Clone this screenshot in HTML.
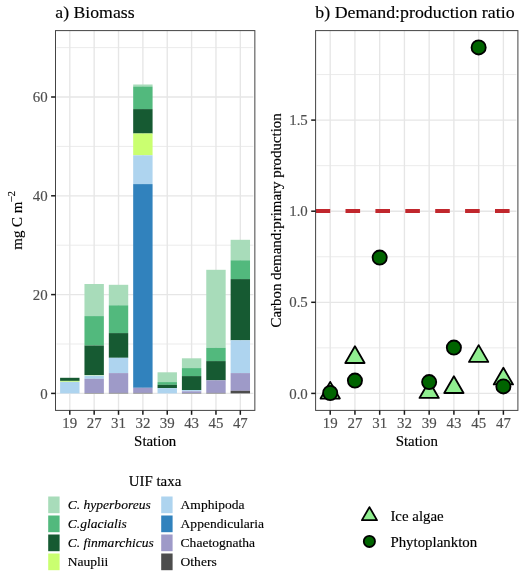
<!DOCTYPE html>
<html lang="en"><head><meta charset="utf-8"><title>Biomass and demand:production ratio</title>
<style>html,body{margin:0;padding:0;background:#fff}svg{display:block}</style></head>
<body>
<svg width="520" height="579" viewBox="0 0 520 579" font-family="'Liberation Serif', serif">
<rect width="520" height="579" fill="#fff"/>
<rect x="55.5" y="30.6" width="199.35" height="379.80" fill="#fff"/>
<line x1="56.50" x2="253.35" y1="344.00" y2="344.00" stroke="#e6e6e6" stroke-width="0.8"/>
<line x1="56.50" x2="253.35" y1="245.20" y2="245.20" stroke="#e6e6e6" stroke-width="0.8"/>
<line x1="56.50" x2="253.35" y1="146.40" y2="146.40" stroke="#e6e6e6" stroke-width="0.8"/>
<line x1="56.50" x2="253.35" y1="47.60" y2="47.60" stroke="#e6e6e6" stroke-width="0.8"/>
<line x1="56.50" x2="253.35" y1="393.40" y2="393.40" stroke="#e6e6e6" stroke-width="1.35"/>
<line x1="56.50" x2="253.35" y1="294.60" y2="294.60" stroke="#e6e6e6" stroke-width="1.35"/>
<line x1="56.50" x2="253.35" y1="195.80" y2="195.80" stroke="#e6e6e6" stroke-width="1.35"/>
<line x1="56.50" x2="253.35" y1="97.00" y2="97.00" stroke="#e6e6e6" stroke-width="1.35"/>
<line x1="69.80" x2="69.80" y1="30.6" y2="410.4" stroke="#e6e6e6" stroke-width="1.35"/>
<line x1="94.16" x2="94.16" y1="30.6" y2="410.4" stroke="#e6e6e6" stroke-width="1.35"/>
<line x1="118.52" x2="118.52" y1="30.6" y2="410.4" stroke="#e6e6e6" stroke-width="1.35"/>
<line x1="142.88" x2="142.88" y1="30.6" y2="410.4" stroke="#e6e6e6" stroke-width="1.35"/>
<line x1="167.24" x2="167.24" y1="30.6" y2="410.4" stroke="#e6e6e6" stroke-width="1.35"/>
<line x1="191.60" x2="191.60" y1="30.6" y2="410.4" stroke="#e6e6e6" stroke-width="1.35"/>
<line x1="215.96" x2="215.96" y1="30.6" y2="410.4" stroke="#e6e6e6" stroke-width="1.35"/>
<line x1="240.32" x2="240.32" y1="30.6" y2="410.4" stroke="#e6e6e6" stroke-width="1.35"/>
<rect x="60.10" y="377.80" width="19.40" height="3.10" fill="#165a32"/>
<rect x="60.10" y="380.90" width="19.40" height="0.90" fill="#caff70"/>
<rect x="60.10" y="381.80" width="19.40" height="11.60" fill="#aed4ef"/>
<rect x="84.46" y="284.00" width="19.40" height="32.10" fill="#a8dcba"/>
<rect x="84.46" y="316.10" width="19.40" height="29.40" fill="#52b97d"/>
<rect x="84.46" y="345.50" width="19.40" height="29.50" fill="#165a32"/>
<rect x="84.46" y="375.00" width="19.40" height="0.50" fill="#caff70"/>
<rect x="84.46" y="375.50" width="19.40" height="3.30" fill="#aed4ef"/>
<rect x="84.46" y="378.80" width="19.40" height="14.20" fill="#9e9ac8"/>
<rect x="84.46" y="393.00" width="19.40" height="0.40" fill="#4d4d4d"/>
<rect x="108.82" y="284.80" width="19.40" height="20.50" fill="#a8dcba"/>
<rect x="108.82" y="305.30" width="19.40" height="27.80" fill="#52b97d"/>
<rect x="108.82" y="333.10" width="19.40" height="24.70" fill="#165a32"/>
<rect x="108.82" y="357.80" width="19.40" height="15.30" fill="#aed4ef"/>
<rect x="108.82" y="373.10" width="19.40" height="19.80" fill="#9e9ac8"/>
<rect x="108.82" y="392.90" width="19.40" height="0.50" fill="#4d4d4d"/>
<rect x="133.18" y="84.50" width="19.40" height="2.00" fill="#a8dcba"/>
<rect x="133.18" y="86.50" width="19.40" height="22.60" fill="#52b97d"/>
<rect x="133.18" y="109.10" width="19.40" height="24.40" fill="#165a32"/>
<rect x="133.18" y="133.50" width="19.40" height="21.80" fill="#caff70"/>
<rect x="133.18" y="155.30" width="19.40" height="28.80" fill="#aed4ef"/>
<rect x="133.18" y="184.10" width="19.40" height="203.70" fill="#3182bd"/>
<rect x="133.18" y="387.80" width="19.40" height="5.10" fill="#9e9ac8"/>
<rect x="133.18" y="392.90" width="19.40" height="0.50" fill="#4d4d4d"/>
<rect x="157.54" y="372.30" width="19.40" height="9.80" fill="#a8dcba"/>
<rect x="157.54" y="382.10" width="19.40" height="2.70" fill="#52b97d"/>
<rect x="157.54" y="384.80" width="19.40" height="3.30" fill="#165a32"/>
<rect x="157.54" y="388.10" width="19.40" height="5.30" fill="#aed4ef"/>
<rect x="181.90" y="358.30" width="19.40" height="9.80" fill="#a8dcba"/>
<rect x="181.90" y="368.10" width="19.40" height="8.00" fill="#52b97d"/>
<rect x="181.90" y="376.10" width="19.40" height="14.00" fill="#165a32"/>
<rect x="181.90" y="390.10" width="19.40" height="1.20" fill="#aed4ef"/>
<rect x="181.90" y="391.30" width="19.40" height="1.70" fill="#9e9ac8"/>
<rect x="181.90" y="393.00" width="19.40" height="0.40" fill="#4d4d4d"/>
<rect x="206.26" y="269.80" width="19.40" height="78.00" fill="#a8dcba"/>
<rect x="206.26" y="347.80" width="19.40" height="13.30" fill="#52b97d"/>
<rect x="206.26" y="361.10" width="19.40" height="19.20" fill="#165a32"/>
<rect x="206.26" y="380.30" width="19.40" height="12.60" fill="#9e9ac8"/>
<rect x="206.26" y="392.90" width="19.40" height="0.50" fill="#4d4d4d"/>
<rect x="230.62" y="239.80" width="19.40" height="20.50" fill="#a8dcba"/>
<rect x="230.62" y="260.30" width="19.40" height="18.80" fill="#52b97d"/>
<rect x="230.62" y="279.10" width="19.40" height="61.20" fill="#165a32"/>
<rect x="230.62" y="340.30" width="19.40" height="32.80" fill="#aed4ef"/>
<rect x="230.62" y="373.10" width="19.40" height="17.70" fill="#9e9ac8"/>
<rect x="230.62" y="390.80" width="19.40" height="2.60" fill="#4d4d4d"/>
<rect x="55.5" y="30.6" width="199.35" height="379.80" fill="none" stroke="#444" stroke-width="1"/>
<line x1="51.10" x2="55.5" y1="393.40" y2="393.40" stroke="#1a1a1a" stroke-width="1.5"/>
<text transform="translate(47.70,398.50) scale(1.015,1)" font-size="14.67" fill="#4d4d4d" stroke="#4d4d4d" stroke-width="0.15" text-anchor="end">0</text>
<line x1="51.10" x2="55.5" y1="294.60" y2="294.60" stroke="#1a1a1a" stroke-width="1.5"/>
<text transform="translate(47.70,299.70) scale(1.015,1)" font-size="14.67" fill="#4d4d4d" stroke="#4d4d4d" stroke-width="0.15" text-anchor="end">20</text>
<line x1="51.10" x2="55.5" y1="195.80" y2="195.80" stroke="#1a1a1a" stroke-width="1.5"/>
<text transform="translate(47.70,200.90) scale(1.015,1)" font-size="14.67" fill="#4d4d4d" stroke="#4d4d4d" stroke-width="0.15" text-anchor="end">40</text>
<line x1="51.10" x2="55.5" y1="97.00" y2="97.00" stroke="#1a1a1a" stroke-width="1.5"/>
<text transform="translate(47.70,102.10) scale(1.015,1)" font-size="14.67" fill="#4d4d4d" stroke="#4d4d4d" stroke-width="0.15" text-anchor="end">60</text>
<line x1="69.80" x2="69.80" y1="410.4" y2="414.80" stroke="#1a1a1a" stroke-width="1.5"/>
<text transform="translate(69.80,427.90) scale(1.015,1)" font-size="14.67" fill="#4d4d4d" stroke="#4d4d4d" stroke-width="0.15" text-anchor="middle">19</text>
<line x1="94.16" x2="94.16" y1="410.4" y2="414.80" stroke="#1a1a1a" stroke-width="1.5"/>
<text transform="translate(94.16,427.90) scale(1.015,1)" font-size="14.67" fill="#4d4d4d" stroke="#4d4d4d" stroke-width="0.15" text-anchor="middle">27</text>
<line x1="118.52" x2="118.52" y1="410.4" y2="414.80" stroke="#1a1a1a" stroke-width="1.5"/>
<text transform="translate(118.52,427.90) scale(1.015,1)" font-size="14.67" fill="#4d4d4d" stroke="#4d4d4d" stroke-width="0.15" text-anchor="middle">31</text>
<line x1="142.88" x2="142.88" y1="410.4" y2="414.80" stroke="#1a1a1a" stroke-width="1.5"/>
<text transform="translate(142.88,427.90) scale(1.015,1)" font-size="14.67" fill="#4d4d4d" stroke="#4d4d4d" stroke-width="0.15" text-anchor="middle">32</text>
<line x1="167.24" x2="167.24" y1="410.4" y2="414.80" stroke="#1a1a1a" stroke-width="1.5"/>
<text transform="translate(167.24,427.90) scale(1.015,1)" font-size="14.67" fill="#4d4d4d" stroke="#4d4d4d" stroke-width="0.15" text-anchor="middle">39</text>
<line x1="191.60" x2="191.60" y1="410.4" y2="414.80" stroke="#1a1a1a" stroke-width="1.5"/>
<text transform="translate(191.60,427.90) scale(1.015,1)" font-size="14.67" fill="#4d4d4d" stroke="#4d4d4d" stroke-width="0.15" text-anchor="middle">43</text>
<line x1="215.96" x2="215.96" y1="410.4" y2="414.80" stroke="#1a1a1a" stroke-width="1.5"/>
<text transform="translate(215.96,427.90) scale(1.015,1)" font-size="14.67" fill="#4d4d4d" stroke="#4d4d4d" stroke-width="0.15" text-anchor="middle">45</text>
<line x1="240.32" x2="240.32" y1="410.4" y2="414.80" stroke="#1a1a1a" stroke-width="1.5"/>
<text transform="translate(240.32,427.90) scale(1.015,1)" font-size="14.67" fill="#4d4d4d" stroke="#4d4d4d" stroke-width="0.15" text-anchor="middle">47</text>
<text transform="translate(155.18,446.00) scale(1.015,1)" font-size="14.67" fill="#000" stroke="#000" stroke-width="0.15" text-anchor="middle">Station</text>
<text transform="translate(55.30,18.30) scale(1.008,1)" font-size="17.6" fill="#000" stroke="#000" stroke-width="0.15">a) Biomass</text>
<text transform="translate(21.5,220.3) rotate(-90)" font-size="14.9" fill="#000" stroke="#000" stroke-width="0.15" text-anchor="middle">mg C m<tspan dx="-0.9" dy="-6.3" font-size="11">−2</tspan></text>
<rect x="315.6" y="30.6" width="202.30" height="379.80" fill="#fff"/>
<line x1="316.60" x2="516.40" y1="347.85" y2="347.85" stroke="#e6e6e6" stroke-width="0.8"/>
<line x1="316.60" x2="516.40" y1="256.75" y2="256.75" stroke="#e6e6e6" stroke-width="0.8"/>
<line x1="316.60" x2="516.40" y1="165.65" y2="165.65" stroke="#e6e6e6" stroke-width="0.8"/>
<line x1="316.60" x2="516.40" y1="74.55" y2="74.55" stroke="#e6e6e6" stroke-width="0.8"/>
<line x1="316.60" x2="516.40" y1="393.40" y2="393.40" stroke="#e6e6e6" stroke-width="1.35"/>
<line x1="316.60" x2="516.40" y1="302.30" y2="302.30" stroke="#e6e6e6" stroke-width="1.35"/>
<line x1="316.60" x2="516.40" y1="211.20" y2="211.20" stroke="#e6e6e6" stroke-width="1.35"/>
<line x1="316.60" x2="516.40" y1="120.10" y2="120.10" stroke="#e6e6e6" stroke-width="1.35"/>
<line x1="330.20" x2="330.20" y1="30.6" y2="410.4" stroke="#e6e6e6" stroke-width="1.35"/>
<line x1="354.94" x2="354.94" y1="30.6" y2="410.4" stroke="#e6e6e6" stroke-width="1.35"/>
<line x1="379.68" x2="379.68" y1="30.6" y2="410.4" stroke="#e6e6e6" stroke-width="1.35"/>
<line x1="404.42" x2="404.42" y1="30.6" y2="410.4" stroke="#e6e6e6" stroke-width="1.35"/>
<line x1="429.16" x2="429.16" y1="30.6" y2="410.4" stroke="#e6e6e6" stroke-width="1.35"/>
<line x1="453.90" x2="453.90" y1="30.6" y2="410.4" stroke="#e6e6e6" stroke-width="1.35"/>
<line x1="478.64" x2="478.64" y1="30.6" y2="410.4" stroke="#e6e6e6" stroke-width="1.35"/>
<line x1="503.38" x2="503.38" y1="30.6" y2="410.4" stroke="#e6e6e6" stroke-width="1.35"/>
<line x1="315.6" x2="517.9" y1="211" y2="211" stroke="#c1272d" stroke-width="4" stroke-dasharray="14.6 15.3"/>
<polygon points="330.20,381.85 339.86,398.57 320.54,398.57" fill="#90ee90" stroke="#000" stroke-width="1.8" stroke-linejoin="round"/>
<polygon points="354.94,346.30 364.60,363.02 345.28,363.02" fill="#90ee90" stroke="#000" stroke-width="1.8" stroke-linejoin="round"/>
<polygon points="429.16,381.25 438.82,397.97 419.50,397.97" fill="#90ee90" stroke="#000" stroke-width="1.8" stroke-linejoin="round"/>
<polygon points="453.90,376.30 463.56,393.02 444.24,393.02" fill="#90ee90" stroke="#000" stroke-width="1.8" stroke-linejoin="round"/>
<polygon points="478.64,345.15 488.30,361.88 468.98,361.88" fill="#90ee90" stroke="#000" stroke-width="1.8" stroke-linejoin="round"/>
<polygon points="503.38,367.75 513.04,384.47 493.72,384.47" fill="#90ee90" stroke="#000" stroke-width="1.8" stroke-linejoin="round"/>
<circle cx="330.20" cy="393.00" r="7.1" fill="#006400" stroke="#000" stroke-width="1.8"/>
<circle cx="354.94" cy="380.60" r="7.1" fill="#006400" stroke="#000" stroke-width="1.8"/>
<circle cx="379.68" cy="257.60" r="7.1" fill="#006400" stroke="#000" stroke-width="1.8"/>
<circle cx="429.16" cy="382.10" r="7.1" fill="#006400" stroke="#000" stroke-width="1.8"/>
<circle cx="453.90" cy="347.60" r="7.1" fill="#006400" stroke="#000" stroke-width="1.8"/>
<circle cx="478.64" cy="47.40" r="7.1" fill="#006400" stroke="#000" stroke-width="1.8"/>
<circle cx="503.38" cy="386.40" r="7.1" fill="#006400" stroke="#000" stroke-width="1.8"/>
<rect x="315.6" y="30.6" width="202.30" height="379.80" fill="none" stroke="#444" stroke-width="1"/>
<line x1="311.20" x2="315.6" y1="393.40" y2="393.40" stroke="#1a1a1a" stroke-width="1.5"/>
<text transform="translate(307.80,398.50) scale(1.015,1)" font-size="14.67" fill="#4d4d4d" stroke="#4d4d4d" stroke-width="0.15" text-anchor="end">0.0</text>
<line x1="311.20" x2="315.6" y1="302.30" y2="302.30" stroke="#1a1a1a" stroke-width="1.5"/>
<text transform="translate(307.80,307.40) scale(1.015,1)" font-size="14.67" fill="#4d4d4d" stroke="#4d4d4d" stroke-width="0.15" text-anchor="end">0.5</text>
<line x1="311.20" x2="315.6" y1="211.20" y2="211.20" stroke="#1a1a1a" stroke-width="1.5"/>
<text transform="translate(307.80,216.30) scale(1.015,1)" font-size="14.67" fill="#4d4d4d" stroke="#4d4d4d" stroke-width="0.15" text-anchor="end">1.0</text>
<line x1="311.20" x2="315.6" y1="120.10" y2="120.10" stroke="#1a1a1a" stroke-width="1.5"/>
<text transform="translate(307.80,125.20) scale(1.015,1)" font-size="14.67" fill="#4d4d4d" stroke="#4d4d4d" stroke-width="0.15" text-anchor="end">1.5</text>
<line x1="330.20" x2="330.20" y1="410.4" y2="414.80" stroke="#1a1a1a" stroke-width="1.5"/>
<text transform="translate(330.20,427.90) scale(1.015,1)" font-size="14.67" fill="#4d4d4d" stroke="#4d4d4d" stroke-width="0.15" text-anchor="middle">19</text>
<line x1="354.94" x2="354.94" y1="410.4" y2="414.80" stroke="#1a1a1a" stroke-width="1.5"/>
<text transform="translate(354.94,427.90) scale(1.015,1)" font-size="14.67" fill="#4d4d4d" stroke="#4d4d4d" stroke-width="0.15" text-anchor="middle">27</text>
<line x1="379.68" x2="379.68" y1="410.4" y2="414.80" stroke="#1a1a1a" stroke-width="1.5"/>
<text transform="translate(379.68,427.90) scale(1.015,1)" font-size="14.67" fill="#4d4d4d" stroke="#4d4d4d" stroke-width="0.15" text-anchor="middle">31</text>
<line x1="404.42" x2="404.42" y1="410.4" y2="414.80" stroke="#1a1a1a" stroke-width="1.5"/>
<text transform="translate(404.42,427.90) scale(1.015,1)" font-size="14.67" fill="#4d4d4d" stroke="#4d4d4d" stroke-width="0.15" text-anchor="middle">32</text>
<line x1="429.16" x2="429.16" y1="410.4" y2="414.80" stroke="#1a1a1a" stroke-width="1.5"/>
<text transform="translate(429.16,427.90) scale(1.015,1)" font-size="14.67" fill="#4d4d4d" stroke="#4d4d4d" stroke-width="0.15" text-anchor="middle">39</text>
<line x1="453.90" x2="453.90" y1="410.4" y2="414.80" stroke="#1a1a1a" stroke-width="1.5"/>
<text transform="translate(453.90,427.90) scale(1.015,1)" font-size="14.67" fill="#4d4d4d" stroke="#4d4d4d" stroke-width="0.15" text-anchor="middle">43</text>
<line x1="478.64" x2="478.64" y1="410.4" y2="414.80" stroke="#1a1a1a" stroke-width="1.5"/>
<text transform="translate(478.64,427.90) scale(1.015,1)" font-size="14.67" fill="#4d4d4d" stroke="#4d4d4d" stroke-width="0.15" text-anchor="middle">45</text>
<line x1="503.38" x2="503.38" y1="410.4" y2="414.80" stroke="#1a1a1a" stroke-width="1.5"/>
<text transform="translate(503.38,427.90) scale(1.015,1)" font-size="14.67" fill="#4d4d4d" stroke="#4d4d4d" stroke-width="0.15" text-anchor="middle">47</text>
<text transform="translate(416.75,446.00) scale(1.015,1)" font-size="14.67" fill="#000" stroke="#000" stroke-width="0.15" text-anchor="middle">Station</text>
<text transform="translate(315.30,18.30) scale(1.015,1)" font-size="17.6" fill="#000" stroke="#000" stroke-width="0.15">b) Demand:production ratio</text>
<text transform="translate(281.3,220.4) rotate(-90)" font-size="14.9" fill="#000" stroke="#000" stroke-width="0.15" text-anchor="middle">Carbon demand:primary production</text>
<text transform="translate(155.00,486.00) scale(1.015,1)" font-size="14.67" fill="#000" stroke="#000" stroke-width="0.15" text-anchor="middle">UIF taxa</text>
<rect x="48.2" y="496.5" width="11.4" height="16.7" fill="#a8dcba"/>
<text transform="translate(67.80,508.90) scale(1.015,1)" font-size="13.33" fill="#000" stroke="#000" stroke-width="0.15"><tspan font-style="italic">C. hyperboreus</tspan></text>
<rect x="48.2" y="515.5" width="11.4" height="16.7" fill="#52b97d"/>
<text transform="translate(67.80,527.90) scale(1.015,1)" font-size="13.33" fill="#000" stroke="#000" stroke-width="0.15"><tspan font-style="italic">C.glacialis</tspan></text>
<rect x="48.2" y="534.5" width="11.4" height="16.7" fill="#165a32"/>
<text transform="translate(67.80,546.90) scale(1.015,1)" font-size="13.33" fill="#000" stroke="#000" stroke-width="0.15"><tspan font-style="italic">C. finmarchicus</tspan></text>
<rect x="48.2" y="553.5" width="11.4" height="16.7" fill="#caff70"/>
<text transform="translate(67.80,565.90) scale(1.015,1)" font-size="13.33" fill="#000" stroke="#000" stroke-width="0.15">Nauplii</text>
<rect x="161.2" y="496.5" width="11.4" height="16.7" fill="#aed4ef"/>
<text transform="translate(180.60,508.90) scale(1.015,1)" font-size="13.33" fill="#000" stroke="#000" stroke-width="0.15">Amphipoda</text>
<rect x="161.2" y="515.5" width="11.4" height="16.7" fill="#3182bd"/>
<text transform="translate(180.60,527.90) scale(1.015,1)" font-size="13.33" fill="#000" stroke="#000" stroke-width="0.15">Appendicularia</text>
<rect x="161.2" y="534.5" width="11.4" height="16.7" fill="#9e9ac8"/>
<text transform="translate(180.60,546.90) scale(1.015,1)" font-size="13.33" fill="#000" stroke="#000" stroke-width="0.15">Chaetognatha</text>
<rect x="161.2" y="553.5" width="11.4" height="16.7" fill="#4d4d4d"/>
<text transform="translate(180.60,565.90) scale(1.015,1)" font-size="13.33" fill="#000" stroke="#000" stroke-width="0.15">Others</text>
<polygon points="369.45,507.10 376.98,520.15 361.92,520.15" fill="#90ee90" stroke="#000" stroke-width="1.8" stroke-linejoin="round"/>
<circle cx="369.40" cy="541.40" r="5.6" fill="#006400" stroke="#000" stroke-width="1.8"/>
<text transform="translate(390.40,520.80) scale(1.015,1)" font-size="14.67" fill="#000" stroke="#000" stroke-width="0.15">Ice algae</text>
<text transform="translate(390.40,546.60) scale(1.015,1)" font-size="14.67" fill="#000" stroke="#000" stroke-width="0.15">Phytoplankton</text>
</svg>
</body></html>
